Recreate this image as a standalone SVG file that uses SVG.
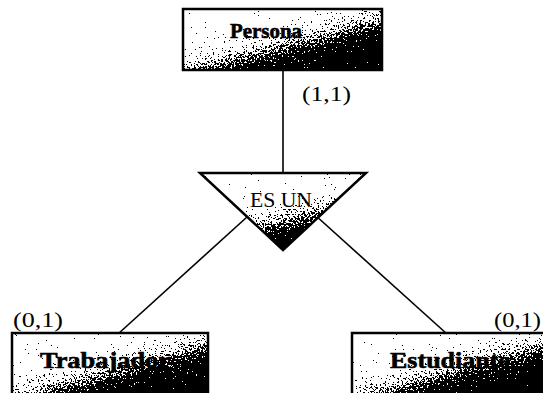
<svg xmlns="http://www.w3.org/2000/svg" width="543" height="393" viewBox="0 0 543 393">
<style>
.box{stroke:#000;stroke-width:2.5}
.ln{stroke:#000;stroke-width:1.6;fill:none}
.ent{font-family:"Liberation Serif",serif;font-weight:bold;fill:#000;stroke:#000;stroke-width:0.6}
.lbl{font-family:"Liberation Serif",serif;font-size:22px;fill:#000}
</style>
<defs>
<linearGradient id="gBox" x1="0.1" y1="0" x2="0.95" y2="1">
<stop offset="0" stop-color="#fff"/>
<stop offset="0.3" stop-color="#fff"/>
<stop offset="0.48" stop-color="#c0c0c0"/>
<stop offset="0.65" stop-color="#303030"/>
<stop offset="0.8" stop-color="#000"/>
</linearGradient>
<linearGradient id="gTri" x1="0.25" y1="0.05" x2="0.7" y2="0.95">
<stop offset="0" stop-color="#fff"/>
<stop offset="0.38" stop-color="#fff"/>
<stop offset="0.6" stop-color="#909090"/>
<stop offset="0.82" stop-color="#000"/>
</linearGradient>
<filter id="dither" x="0" y="0" width="100%" height="100%" color-interpolation-filters="sRGB">
<feTurbulence type="fractalNoise" baseFrequency="0.55" numOctaves="2" seed="7" result="n"/>
<feColorMatrix in="n" type="matrix" values="1 0 0 0 0  1 0 0 0 0  1 0 0 0 0  0 0 0 0 1" result="g"/>
<feComposite in="SourceGraphic" in2="g" operator="arithmetic" k1="0" k2="1" k3="1.8" k4="-0.9" result="s"/>
<feComponentTransfer in="s">
<feFuncR type="discrete" tableValues="0 1"/>
<feFuncG type="discrete" tableValues="0 1"/>
<feFuncB type="discrete" tableValues="0 1"/>
<feFuncA type="linear" slope="0" intercept="1"/>
</feComponentTransfer>
</filter>
<clipPath id="triClip"><polygon points="200,173 366,173 283,250"/></clipPath>
</defs>
<rect width="543" height="393" fill="#fff"/>
<g id="connectors">
<line class="ln" x1="283" y1="70" x2="283" y2="174"/>
<line class="ln" x1="247" y1="217" x2="118" y2="334"/>
<line class="ln" x1="315" y1="215" x2="447" y2="334"/>
<text class="lbl" x="302" y="101" textLength="49" lengthAdjust="spacingAndGlyphs">(1,1)</text>
<text class="lbl" x="13" y="327" textLength="50" lengthAdjust="spacingAndGlyphs">(0,1)</text>
<text class="lbl" x="494" y="327" textLength="47" lengthAdjust="spacingAndGlyphs">(0,1)</text>
</g>
<g id="persona">
<rect x="183" y="9" width="199" height="61" fill="url(#gBox)" filter="url(#dither)"/>
<rect class="box" x="183" y="9" width="199" height="61" fill="none"/>
<text class="ent" x="230" y="38" font-size="22" textLength="72" lengthAdjust="spacingAndGlyphs">Persona</text>
</g>
<g id="es_un">
<g clip-path="url(#triClip)">
<polygon points="200,173 366,173 283,250" fill="url(#gTri)" filter="url(#dither)"/>
</g>
<polygon class="box" points="200,173 366,173 283,250" fill="none" stroke-width="2"/>
<text x="250" y="207" font-family="Liberation Serif, serif" font-size="20" textLength="62" lengthAdjust="spacingAndGlyphs">ES UN</text>
</g>
<g id="trabajador">
<rect x="12" y="333" width="196" height="64" fill="url(#gBox)" filter="url(#dither)"/>
<rect class="box" x="12" y="333" width="196" height="64" fill="none"/>
<text class="ent" x="40" y="368" font-size="23" textLength="130" lengthAdjust="spacingAndGlyphs">Trabajador</text>
</g>
<g id="estudiante">
<rect x="352" y="333" width="195" height="64" fill="url(#gBox)" filter="url(#dither)"/>
<rect class="box" x="352" y="333" width="195" height="64" fill="none"/>
<text class="ent" x="390" y="368" font-size="23" textLength="120" lengthAdjust="spacingAndGlyphs">Estudiante</text>
</g>
</svg>
